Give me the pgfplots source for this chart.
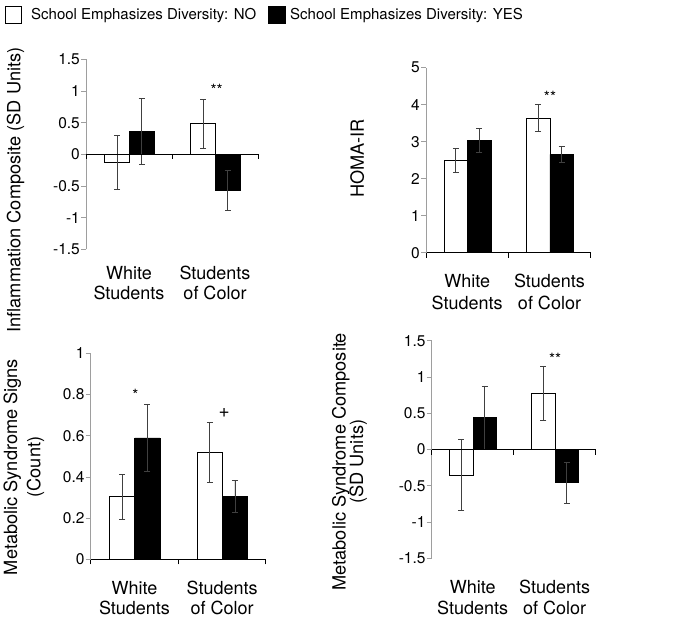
\documentclass[border=0pt]{standalone}
\usepackage{fontspec}
\setmainfont{TeX Gyre Heros}
\usepackage{pgfplots}
\pgfplotsset{compat=1.18}
\definecolor{axgray}{gray}{0.62}
\definecolor{errgray}{gray}{0.25}
\newcommand{\tickfont}{\fontsize{15.5}{18}\selectfont}
\newcommand{\legfont}{\fontsize{15}{18}\selectfont}
\newcommand{\labfont}{\fontsize{18.2}{21}\selectfont}
\newcommand{\catfont}{\fontsize{18}{21}\selectfont}
\pgfplotsset{
  panel/.style={
    scale only axis,
    anchor=south west,
    xmin=0.5, xmax=2.5,
    axis y line=left,
    axis x line=bottom,
    axis line style={-},
    y axis line style={draw=axgray, line width=0.8pt},
    x axis line style={draw=black, line width=0.8pt},
    xtick={0.5,1.5,2.5}, xticklabels={{},{},{}},
    tick align=outside,
    major tick length=5pt,
    ytick style={draw=axgray, line width=0.8pt},
    xtick style={draw=black, line width=0.8pt},
    yticklabel style={font=\tickfont, inner sep=1pt},
    /pgf/number format/assume math mode=true,
    /pgf/number format/fixed,
    hide obscured x ticks=false,
    hide obscured y ticks=false,
    clip=false,
  },
  midx/.style={axis x line=none},
  barbase/.style={ybar, bar width=0.286, bar shift=0pt, draw=black, line width=0.8pt,
    error bars/y dir=both, error bars/y explicit,
    error bars/error bar style={line width=0.8pt, draw=errgray},
    error bars/error mark options={rotate=90, mark size=3pt, line width=0.8pt, draw=errgray}},
  nobar/.style={barbase, fill=white},
  yesbar/.style={barbase, fill=black},
}
\newcommand{\zeroaxis}{%
  \draw[line width=0.8pt] (axis cs:0.5,0) -- (axis cs:2.5,0);
  \draw[line width=0.8pt] (axis cs:0.5,0) -- ([yshift=-5pt]axis cs:0.5,0);
  \draw[line width=0.8pt] (axis cs:1.5,0) -- ([yshift=-5pt]axis cs:1.5,0);
  \draw[line width=0.8pt] (axis cs:2.5,0) -- ([yshift=-5pt]axis cs:2.5,0);}
\begin{document}
\begin{tikzpicture}
\useasboundingbox (0,0) rectangle (677pt,619pt);

% legend
\draw[line width=0.8pt, fill=white] (5pt,595.7pt) rectangle (21.7pt,612.3pt);
\node[anchor=base west, inner sep=0pt, font=\legfont] at (31pt,599pt) {School Emphasizes Diversity: NO};
\draw[line width=0.8pt, fill=black] (268pt,595.7pt) rectangle (285.7pt,612.3pt);
\node[anchor=base west, inner sep=0pt, font=\legfont] at (290pt,599pt) {School Emphasizes Diversity: YES};

% Panel 1: Inflammation
\begin{axis}[panel, at={(86pt,369.7pt)}, width=172pt, height=190pt,
  ymin=-1.5, ymax=1.5, ytick={-1.5,-1,-0.5,0,0.5,1,1.5}, midx]
\addplot[nobar] coordinates {(0.862,-0.13) +- (0,0.43) (1.862,0.48) +- (0,0.38)};
\addplot[yesbar] coordinates {(1.148,0.36) +- (0,0.52) (2.148,-0.57) +- (0,0.32)};
\zeroaxis
\node[anchor=north, inner sep=0pt, font=\tickfont] at (axis cs:2.02,1.105) {**};
\end{axis}
\node[rotate=90, anchor=north, inner sep=0pt, font=\labfont] at (6.7pt,429pt) {Inflammation Composite (SD Units)};
\node[anchor=base, inner sep=0pt, font=\catfont] at (129pt,339.7pt) {White};
\node[anchor=base, inner sep=0pt, font=\catfont] at (129pt,319pt) {Students};
\node[anchor=base, inner sep=0pt, font=\catfont] at (215pt,339.7pt) {Students};
\node[anchor=base, inner sep=0pt, font=\catfont] at (215pt,319pt) {of Color};

% Panel 2: HOMA-IR
\begin{axis}[panel, at={(426pt,366.3pt)}, width=164.7pt, height=185pt,
  ymin=0, ymax=5, ytick={0,1,2,3,4,5}]
\addplot[nobar] coordinates {(0.862,2.50) +- (0,0.32) (1.862,3.64) +- (0,0.36)};
\addplot[yesbar] coordinates {(1.148,3.03) +- (0,0.33) (2.148,2.66) +- (0,0.21)};
\node[anchor=north, inner sep=0pt, font=\tickfont] at (axis cs:2.006,4.378) {**};
\end{axis}
\node[rotate=90, anchor=north, inner sep=0pt, font=\labfont] at (350pt,460.7pt) {HOMA-IR};
\node[anchor=base, inner sep=0pt, font=\catfont] at (467.2pt,331.7pt) {White};
\node[anchor=base, inner sep=0pt, font=\catfont] at (467.2pt,309pt) {Students};
\node[anchor=base, inner sep=0pt, font=\catfont] at (549.5pt,331.7pt) {Students};
\node[anchor=base, inner sep=0pt, font=\catfont] at (549.5pt,309pt) {of Color};

% Panel 3: Metabolic Syndrome Signs
\begin{axis}[panel, at={(90.7pt,59.7pt)}, width=175pt, height=206pt,
  ymin=0, ymax=1, ytick={0,0.2,0.4,0.6,0.8,1}]
\addplot[nobar] coordinates {(0.862,0.303) +- (0,0.11) (1.862,0.518) +- (0,0.147)};
\addplot[yesbar] coordinates {(1.148,0.589) +- (0,0.163) (2.148,0.304) +- (0,0.078)};
\node[anchor=north, inner sep=0pt, font=\tickfont] at (axis cs:1.01,0.825) {*};
\node[anchor=north, inner sep=0pt, font=\fontsize{19}{21}\selectfont] at (axis cs:2.026,0.733) {+};
\end{axis}
\node[rotate=90, anchor=north, inner sep=0pt, font=\labfont] at (3.3pt,152pt) {Metabolic Syndrome Signs};
\node[rotate=90, anchor=north, inner sep=0pt, font=\labfont] at (26.7pt,152pt) {(Count)};
\node[anchor=base, inner sep=0pt, font=\catfont] at (134.5pt,25pt) {White};
\node[anchor=base, inner sep=0pt, font=\catfont] at (134.5pt,4.3pt) {Students};
\node[anchor=base, inner sep=0pt, font=\catfont] at (222.2pt,25pt) {Students};
\node[anchor=base, inner sep=0pt, font=\catfont] at (222.2pt,4.3pt) {of Color};

% Panel 4: Metabolic Syndrome Composite
\begin{axis}[panel, at={(431.7pt,60.7pt)}, width=164pt, height=217.6pt,
  ymin=-1.5, ymax=1.5, ytick={-1.5,-1,-0.5,0,0.5,1,1.5}, midx]
\addplot[nobar] coordinates {(0.862,-0.354) +- (0,0.49) (1.862,0.772) +- (0,0.37)};
\addplot[yesbar] coordinates {(1.148,0.436) +- (0,0.44) (2.148,-0.459) +- (0,0.285)};
\zeroaxis
\node[anchor=north, inner sep=0pt, font=\tickfont] at (axis cs:2.004,1.337) {**};
\end{axis}
\node[rotate=90, anchor=north, inner sep=0pt, font=\labfont] at (331.7pt,157.3pt) {Metabolic Syndrome Composite};
\node[rotate=90, anchor=north, inner sep=0pt, font=\labfont] at (349.3pt,157.3pt) {(SD Units)};
\node[anchor=base, inner sep=0pt, font=\catfont] at (472.7pt,26pt) {White};
\node[anchor=base, inner sep=0pt, font=\catfont] at (472.7pt,4.5pt) {Students};
\node[anchor=base, inner sep=0pt, font=\catfont] at (554.7pt,26pt) {Students};
\node[anchor=base, inner sep=0pt, font=\catfont] at (554.7pt,4.5pt) {of Color};
\end{tikzpicture}
\end{document}
